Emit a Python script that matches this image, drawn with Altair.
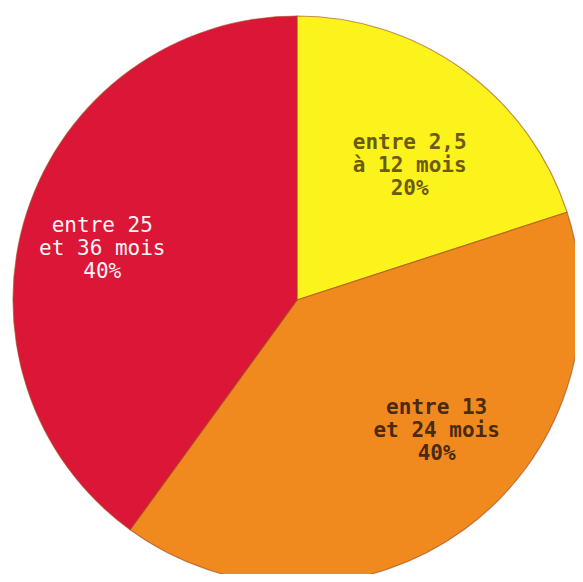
import altair as alt
import pandas as pd

categories = ["entre 2,5 à 12 mois", "entre 13 et 24 mois", "entre 25 et 36 mois"]
labels = ["entre 2,5\nà 12 mois\n20%", "entre 13\net 24 mois\n40%", "entre 25\net 36 mois\n40%"]
values = [20, 40, 40]
order = [1, 2, 3]
slice_colors = ["#FCF21C", "#F08A1F", "#DC1636"]

df = pd.DataFrame({"cat": categories, "label": labels, "value": values, "idx": order})

CX, CY, R = 289, 292, 284

pie = alt.Chart(df).mark_arc(
    outerRadius=R, stroke="#A04A20", strokeWidth=1.2, strokeOpacity=0.6
).encode(
    theta=alt.Theta("value:Q", stack=True, scale=alt.Scale(domain=[0, 100])),
    order=alt.Order("idx:Q"),
    color=alt.Color("cat:N", scale=alt.Scale(domain=categories, range=slice_colors), legend=None),
    x=alt.value(CX),
    y=alt.value(CY),
)

base = alt.Chart(df).transform_stack(
    stack="value", groupby=[], as_=["start", "end"], sort=[alt.SortField("idx", order="ascending")]
).transform_calculate(mid="(datum.start + datum.end) / 2")


def label_layer(cat, color, weight, dx, dy):
    return base.transform_filter(alt.datum.cat == cat).mark_text(
        font="DejaVu Sans Mono", fontSize=21, fontWeight=weight, lineHeight=23,
        lineBreak="\n", align="center", baseline="middle", color=color, dx=dx, dy=dy,
    ).encode(
        theta=alt.Theta("mid:Q", stack=None, scale=alt.Scale(domain=[0, 100])),
        radius=alt.value(190),
        text="label:N",
        x=alt.value(CX),
        y=alt.value(CY),
    )


chart = alt.layer(
    pie,
    label_layer(categories[0], "#6B5A10", "bold", 1, -3),
    label_layer(categories[1], "#4A2A12", "bold", 28, -46),
    label_layer(categories[2], "#FFF4F6", "normal", -14, -15),
).properties(
    width=567, height=566, padding=0, background="white",
    autosize=alt.AutoSizeParams(type="none"),
).configure_view(stroke=None)

chart.save("out.html", embed_options={"renderer": "svg", "actions": False})
